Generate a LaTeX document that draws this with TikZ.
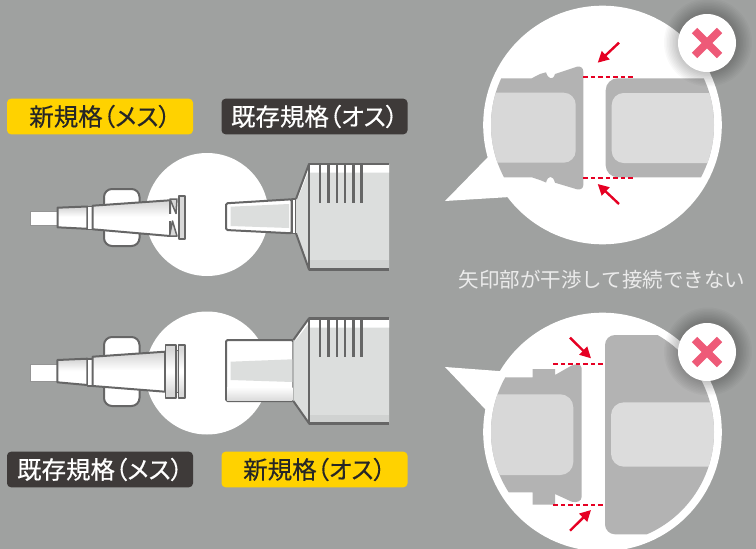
\documentclass[tikz,border=0pt]{standalone}
\usepackage{fontspec}
\usetikzlibrary{arrows.meta}
\newfontfamily\jpbold[RawFeature={+palt},FakeBold=0.35]{Noto Sans CJK JP}
\newfontfamily\jplight{Noto Sans CJK JP}
\definecolor{bgc}{HTML}{9FA1A0}
\definecolor{edge}{HTML}{666666}
\definecolor{pale}{HTML}{DCDEDD}
\definecolor{palest}{HTML}{D0D2D1}
\definecolor{shapeg}{HTML}{B3B3B3}
\definecolor{innerl}{HTML}{D8D8D8}
\definecolor{innerr}{HTML}{DCDCDC}
\definecolor{redm}{HTML}{E60023}
\definecolor{pinkx}{HTML}{EE5A78}
\definecolor{yel}{HTML}{FFD200}
\definecolor{darkl}{HTML}{3E3A39}
\pgfdeclareverticalshading{bodygrad}{100bp}{color(0bp)=(white); color(52bp)=(white); color(72bp)=(innerl); color(100bp)=(innerl)}
\pgfdeclareverticalshading{flangeshade}{100bp}{color(0bp)=(innerl); color(30bp)=(innerl); color(49bp)=(white); color(52bp)=(white); color(70bp)=(innerl); color(100bp)=(innerl)}
\tikzset{
  tagbox/.style={rounded corners=4pt,minimum width=186pt,minimum height=35.6pt,inner sep=0pt,font=\jpbold\fontsize{24.5}{26}\selectfont},
  tagyel/.style={tagbox,fill=yel,text=black!85},
  tagdark/.style={tagbox,fill=darkl,text=white},
  ln/.style={draw=edge,line width=2pt,line join=round},
  grad/.style={ln,shading=bodygrad},
  flangegrad/.style={ln,line width=1.6pt,shading=flangeshade},
  stripe/.style={draw=edge,line width=2.6pt},
  reddash/.style={draw=redm,line width=2pt,dash pattern=on 4.5pt off 3pt},
  redarrow/.style={draw=redm,line width=2.4pt,-{Triangle[length=11pt,width=11pt]}},
  badgex/.style={draw=pinkx,line width=7.5pt},
}
\newcommand{\badge}[2]{%
  \foreach \rr in {44,42.5,...,29.5}{\fill[black,opacity=0.025] (#1+1,#2-0.5) circle (\rr);}
  \fill[white] (#1,#2) circle (29);
  \draw[badgex] (#1-12.5,#2-12.5) -- (#1+12.5,#2+12.5) (#1-12.5,#2+12.5) -- (#1+12.5,#2-12.5);
}
\begin{document}
\begin{tikzpicture}[x=1pt,y=-1pt]
\useasboundingbox (0,0) rectangle (756,549);
\fill[bgc] (0,0) rectangle (756,549);

% small white circles
\fill[white] (207,214.5) circle (61.5);
\fill[white] (207,373) circle (61.5);

% ---- upper female
\fill[white,draw=edge!70,line width=.8pt] (30,211) rectangle (58,225);
\draw[ln,fill=white,rounded corners=8pt] (104,189) rectangle (139.5,246);
\path[grad] (57.5,207.7) -- (87.3,206.5) -- (87.3,228.8) -- (57.5,227.3) -- cycle;
\path[ln,fill=white,line width=1.6pt] (87.3,206.5) rectangle (92.6,229.3);
\path[grad] (92.7,205.7) -- (170,200.3) -- (170,236) -- (92.7,229.3) -- cycle;
\fill[white] (168.5,213.8) rectangle (178,221);
\path[ln,fill=innerl,line width=1.5pt] (170,199) -- (177,199) -- (176,213.5) -- cycle;
\path[ln,fill=innerl,line width=1.5pt] (172.5,221) -- (177,236) -- (169.5,236) -- cycle;
\path[ln,fill=innerl] (178.5,195.5) rectangle (184.8,239);

% ---- upper male
\path[ln,fill=white,rounded corners=1.5pt] (226,203.3) -- (291.7,199.3) -- (291.7,233.3) -- (226,230) -- cycle;
\fill[pale] (230.7,206.7) -- (289,204) -- (289,228) -- (230.7,226) -- cycle;
\path[ln,fill=white,line width=1.6pt] (291.7,199) rectangle (296,233.3);
\fill[pale] (296,199) -- (309,164) -- (389,164) -- (389,269.5) -- (309,269.5) -- (296,233.3) -- cycle;
\fill[white] (297.5,199) -- (309,170) -- (309,172.5) -- (389,172.5) -- (389,164) -- (309,164) -- cycle;
\fill[palest] (309,260) rectangle (389,269.5);
\draw[ln,line width=2.4pt] (389,164) -- (309,164) -- (309,269.5) -- (389,269.5);
\draw[ln] (296,199) -- (309,164) (296,233.3) -- (309,269.5);
\foreach \xx in {320,328.3,337,345,353.3,361.7}{\draw[stripe] (\xx,164) -- (\xx,203.3);}

% ---- lower female
\fill[white,draw=edge!70,line width=.8pt] (30,364) rectangle (58,381);
\draw[ln,fill=white,rounded corners=8pt] (104,337) rectangle (139.5,406);
\path[grad] (57.4,360) -- (87.3,358.7) -- (87.3,385) -- (57.4,382.3) -- cycle;
\path[ln,fill=white,line width=1.6pt] (87.3,358.7) rectangle (92.6,386);
\path[grad] (92.7,356.7) -- (165,351.7) -- (165,391.7) -- (92.7,386) -- cycle;
\path[ln,fill=innerl,line width=1.5pt] (176,350.5) rectangle (178.4,392.5);
\path[flangegrad] (165.5,345) rectangle (176,397.8);
\path[flangegrad] (178.4,345) rectangle (185,397.8);

% ---- lower male
\path[ln,fill=white,rounded corners=1.5pt] (226,340) -- (293.3,340) -- (293.3,401) -- (226,401) -- cycle;
\path[top color=white,bottom color=innerr,draw=none] (227.2,387) rectangle (292.3,400);
\fill[pale] (230.7,361.7) -- (292.4,359.3) -- (292.4,382) -- (230.7,380) -- cycle;
\fill[pale] (293.3,340) -- (309,318.3) -- (389,318.3) -- (389,423.3) -- (309,423.3) -- (293.3,401) -- cycle;
\fill[white] (295,341) -- (309,323) -- (309,327.5) -- (389,327.5) -- (389,318.3) -- (309,318.3) -- cycle;
\fill[palest] (309,415) rectangle (389,423.3);
\draw[ln,line width=2.4pt] (389,318.3) -- (309,318.3) -- (309,423.3) -- (389,423.3);
\draw[ln] (293.3,340) -- (309,318.3) (293.3,401) -- (309,423.3);
\foreach \xx in {320,328.3,337,345,353.3,361.7}{\draw[stripe] (\xx,318.3) -- (\xx,356.7);}

% ---- labels
\node[tagyel] (t1) at (100,116.5) {新規格（メス）};
\node[tagdark] (t2) at (314.5,116.5) {既存規格（オス）};
\node[tagdark] (t3) at (100,469.5) {既存規格（メス）};
\node[tagyel] (t4) at (314.5,469.5) {新規格（オス）};
\node[inner sep=0pt,text=white!92!black,font=\jplight\fontsize{20.5}{22}\selectfont] (cap) at (602,280) {矢印部が干渉して接続できない};

% ---- upper zoom bubble
\fill[white] (445,201) -- (490,155) -- (510,197) -- cycle;
\fill[white] (602.5,125) circle (119.3);
\begin{scope}
\clip (602.5,125) circle (111.5);
\fill[shapeg] (480,78.3) -- (531.7,78.3) -- (540,74) -- (546,72.3)
  .. controls (548,79) and (553,81) .. (555,74) -- (577,66.7)
  .. controls (581,66) and (583.3,68) .. (583.3,72) -- (583.3,185)
  .. controls (583.3,188) and (581,190) .. (577,189.3) -- (555,182.7)
  .. controls (553,175) and (548,175) .. (546,182.5) -- (540,180) -- (531.7,177.3) -- (480,177.3) -- cycle;
\fill[innerl,rounded corners=12pt] (470,92.7) rectangle (575.7,162.7);
\fill[shapeg,rounded corners=12pt] (605.7,78.3) rectangle (740,177.3);
\fill[innerr,rounded corners=12pt] (611.7,93) rectangle (740,163);
\end{scope}
\draw[reddash] (583.3,77.3) -- (633,77.3);
\draw[reddash] (583.3,178.3) -- (633,178.3);
\coordinate (a1s) at (619,42.7); \coordinate (a1e) at (597.7,62.7);
\coordinate (a2s) at (619,204); \coordinate (a2e) at (597.7,184);
\draw[redarrow] (a1s) -- (a1e);
\draw[redarrow] (a2s) -- (a2e);
\badge{707}{43}

% ---- lower zoom bubble
\fill[white] (445,367) -- (505,371.5) -- (486,410) -- cycle;
\fill[white] (602.5,432) circle (119.3);
\begin{scope}
\clip (602.5,432) circle (111.5);
\fill[shapeg] (480,377.3) -- (532.7,377.3) -- (532.7,369) -- (555,369) -- (555,375) -- (571.7,365.5)
  .. controls (576,363.5) and (581.7,364) .. (581.7,368.5) -- (581.7,496.7)
  .. controls (581.7,501) and (577,503) .. (571.7,501.7) -- (555,494) -- (555,504.7) -- (532.7,504.7) -- (532.7,492.3) -- (480,492.3) -- cycle;
\fill[innerl,rounded corners=13pt] (470,394.3) rectangle (573.3,475);
\fill[shapeg,rounded corners=10pt] (605,335) rectangle (740,534.3);
\fill[innerr,rounded corners=13pt] (611,402.3) rectangle (740,466.7);
\end{scope}
\draw[reddash] (553.3,364) -- (605,364);
\draw[reddash] (553.3,504.7) -- (605,504.7);
\coordinate (a3s) at (570,337.7); \coordinate (a3e) at (591,358.3);
\coordinate (a4s) at (570,530.7); \coordinate (a4e) at (591,510);
\draw[redarrow] (a3s) -- (a3e);
\draw[redarrow] (a4s) -- (a4e);
\badge{707}{352}
\end{tikzpicture}
\end{document}
